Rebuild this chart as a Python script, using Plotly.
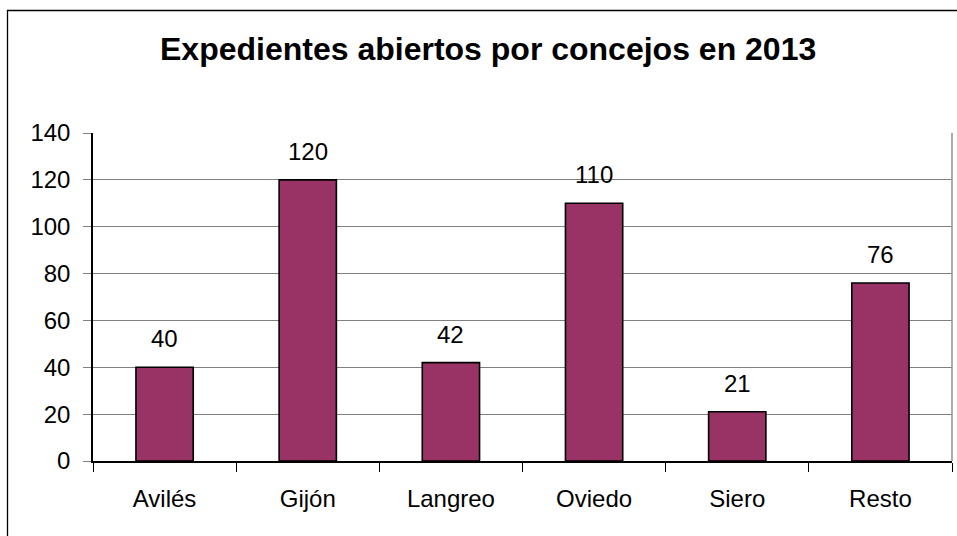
import plotly.graph_objects as go

categories = ["Avilés", "Gijón", "Langreo", "Oviedo", "Siero", "Resto"]
values = [40, 120, 42, 110, 21, 76]
y_ticks = [0, 20, 40, 60, 80, 100, 120, 140]
title_text = "Expedientes abiertos por concejos en 2013"

FONT = "Liberation Sans, Arial, sans-serif"
W, H = 957, 536
L, R, T, B = 93, 5, 133, 75
pw, ph = W - L - R, H - T - B

def px_x(px):
    return (px - L) / pw

def px_y(py):
    return (H - B - py) / ph

fig = go.Figure()
fig.add_trace(go.Bar(
    x=categories, y=values,
    marker=dict(color="#993366", line=dict(color="#000000", width=1.6)),
    hoverinfo="x+y",
))

for c, v in zip(categories, values):
    fig.add_annotation(x=c, y=v, text=str(v), showarrow=False,
                       yanchor="bottom", yshift=13,
                       font=dict(family=FONT, size=24, color="#000000"))

fig.update_layout(
    width=W, height=H,
    margin=dict(l=L, r=R, t=T, b=B),
    paper_bgcolor="white", plot_bgcolor="white",
    bargap=0.6,
    showlegend=False,
    font=dict(family=FONT, size=24, color="#000000"),
    xaxis=dict(
        showline=True, linecolor="#000000", linewidth=1.5,
        ticks="outside", tickson="boundaries", ticklen=9, tickcolor="#000000",
        tickwidth=1,
        showgrid=False,
        tickfont=dict(family=FONT, size=24, color="#000000"),
        ticklabelstandoff=15,
    ),
    yaxis=dict(
        range=[0, 140], tickvals=y_ticks,
        showline=True, linecolor="#000000", linewidth=1.5,
        ticks="outside", ticklen=8, tickcolor="#808080", tickwidth=1,
        showgrid=True, gridcolor="#808080", gridwidth=1,
        zeroline=False,
        tickfont=dict(family=FONT, size=24, color="#000000"),
        ticklabelstandoff=8,
    ),
)

fig.add_annotation(xref="paper", yref="paper",
                   x=px_x(488), y=px_y(49), text="<b>" + title_text + "</b>",
                   showarrow=False, xanchor="center", yanchor="middle",
                   font=dict(family=FONT, size=32, color="#000000"))

# plot area right border (gray)
fig.add_shape(type="line", xref="paper", yref="paper",
              x0=1, x1=1, y0=0, y1=1,
              line=dict(color="#909090", width=1.5))
# outer chart border
fig.add_shape(type="rect", xref="paper", yref="paper",
              x0=px_x(7.5), x1=px_x(965), y0=px_y(545), y1=px_y(10.5),
              line=dict(color="#000000", width=1.3), fillcolor="rgba(0,0,0,0)",
              layer="above")

fig.write_html("out.html",
               config={"displayModeBar": False},
               post_script="document.body.style.margin='0';document.body.style.overflow='hidden';")
